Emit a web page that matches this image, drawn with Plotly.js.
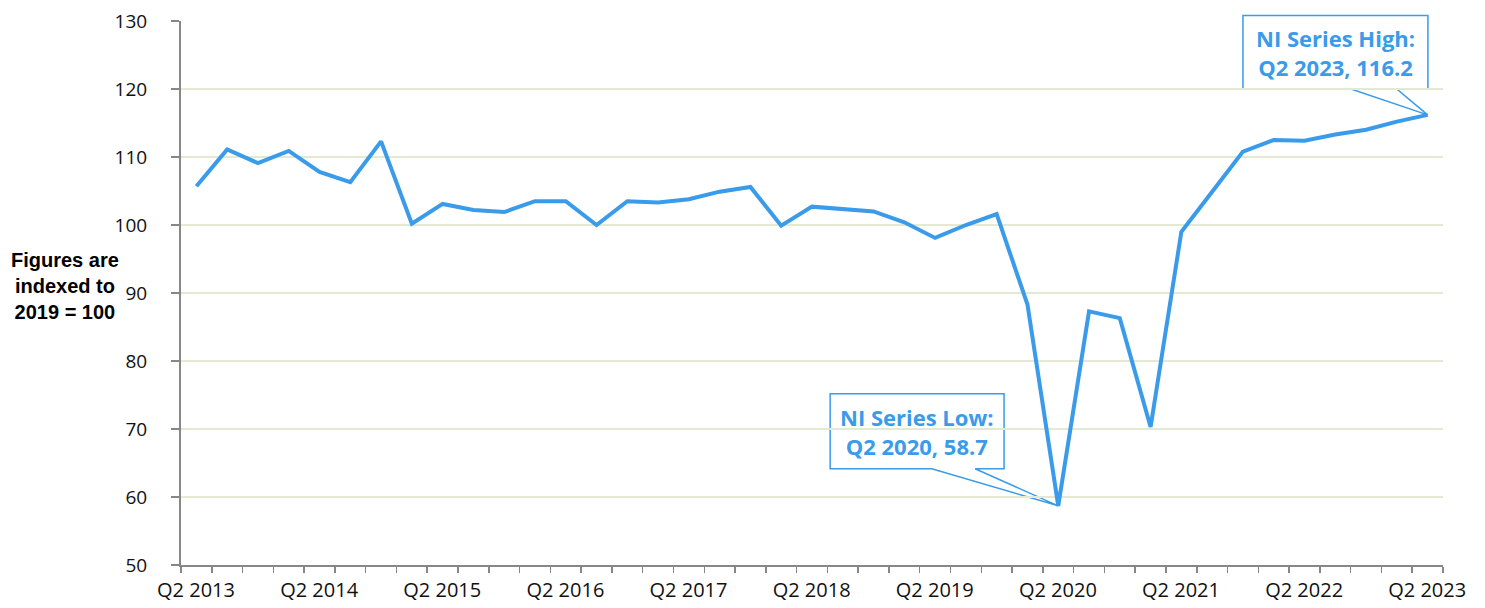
<!DOCTYPE html>
<html>
<head>
<meta charset="utf-8">
<script src="https://cdn.plot.ly/plotly-3.0.1.min.js"></script>
<style>html,body{margin:0;padding:0;background:#fff;}#chart{width:1485px;height:608px;}</style>
</head>
<body>
<div id="chart"></div>
<script>
const quarters = [
  "Q2 2013","Q3 2013","Q4 2013","Q1 2014",
  "Q2 2014","Q3 2014","Q4 2014","Q1 2015",
  "Q2 2015","Q3 2015","Q4 2015","Q1 2016",
  "Q2 2016","Q3 2016","Q4 2016","Q1 2017",
  "Q2 2017","Q3 2017","Q4 2017","Q1 2018",
  "Q2 2018","Q3 2018","Q4 2018","Q1 2019",
  "Q2 2019","Q3 2019","Q4 2019","Q1 2020",
  "Q2 2020","Q3 2020","Q4 2020","Q1 2021",
  "Q2 2021","Q3 2021","Q4 2021","Q1 2022",
  "Q2 2022","Q3 2022","Q4 2022","Q1 2023",
  "Q2 2023"
];
const indexValues = [
  105.7, 111.1, 109.1, 110.9,
  107.8, 106.3, 112.3, 100.2,
  103.1, 102.2, 101.9, 103.5,
  103.5, 100.0, 103.5, 103.3,
  103.8, 104.9, 105.6, 99.9,
  102.7, 102.4, 102.0, 100.4,
  98.1, 100.0, 101.6, 88.3,
  58.7, 87.3, 86.3, 70.3,
  99.0, 104.9, 110.8, 112.5,
  112.4, 113.3, 114.0, 115.2,
  116.2
];
const tickLabels = ["Q2 2013","Q2 2014","Q2 2015","Q2 2016","Q2 2017","Q2 2018","Q2 2019","Q2 2020","Q2 2021","Q2 2022","Q2 2023"];
const yTitle = "Figures are<br>indexed to<br>2019 = 100";

const blue = "#3a9bea";
const gray = "#878787";
const yRange = [50, 130];
const xRange = [-0.5, quarters.length - 0.5];
const xIdx = quarters.map((q, i) => i);

// ticks sit on the boundaries between quarters; labels are shifted half a quarter to the right
const boundaryVals = quarters.map((q, i) => i - 0.5).concat([quarters.length - 0.5]);
const boundaryText = boundaryVals.map((b, i) => (i < quarters.length && tickLabels.includes(quarters[i])) ? quarters[i] : "");

const plotW = 1485 - 181 - 42;
const halfStep = Math.round(plotW / (xRange[1] - xRange[0]) / 2);

const lowIdx = indexValues.indexOf(Math.min(...indexValues));
const highIdx = indexValues.indexOf(Math.max(...indexValues));
const toPaper = v => (v - yRange[0]) / (yRange[1] - yRange[0]);

function calloutPath(x0, x1, yTop, yBot, b0, b1, tipX, tipY) {
  return `M ${x0},${yTop} L ${x1},${yTop} L ${x1},${yBot} L ${b1},${yBot} L ${tipX},${tipY} L ${b0},${yBot} L ${x0},${yBot} Z`;
}

const lowText = `NI Series Low:<br>${quarters[lowIdx]}, ${indexValues[lowIdx].toFixed(1)}`;
const highText = `NI Series High:<br>${quarters[highIdx]}, ${indexValues[highIdx].toFixed(1)}`;

const trace = {
  x: xIdx,
  y: indexValues,
  type: "scatter",
  mode: "lines",
  line: {color: blue, width: 4},
  hoverinfo: "skip"
};

const layout = {
  width: 1485,
  height: 608,
  margin: {l: 181, r: 42, t: 21, b: 43},
  paper_bgcolor: "#ffffff",
  plot_bgcolor: "#ffffff",
  showlegend: false,
  font: {family: "Open Sans, sans-serif", color: "#111111"},
  xaxis: {
    range: xRange,
    tickmode: "array",
    tickvals: boundaryVals,
    ticktext: boundaryText,
    ticks: "outside",
    ticklen: 6,
    tickwidth: 1.5,
    tickcolor: gray,
    ticklabelshift: halfStep,
    tickfont: {family: "Open Sans, sans-serif", size: 20, color: "#111111"},
    showgrid: false,
    zeroline: false,
    showline: true,
    linecolor: gray,
    linewidth: 2
  },
  yaxis: {
    range: yRange,
    dtick: 10,
    tick0: 50,
    ticks: "outside",
    ticklen: 8,
    tickwidth: 1.5,
    tickcolor: gray,
    ticklabelstandoff: 20,
    tickfont: {family: "Open Sans, sans-serif", size: 19, color: "#111111"},
    showgrid: true,
    gridcolor: "#e3e9d2",
    gridwidth: 2,
    zeroline: false,
    showline: true,
    linecolor: gray,
    linewidth: 2
  },
  shapes: [
    {
      type: "path", xref: "x", yref: "paper", layer: "between",
      path: calloutPath(20.59, 26.24, 0.3149, 0.1770, 23.89, 25.30, lowIdx, toPaper(indexValues[lowIdx])),
      fillcolor: "#ffffff", line: {color: blue, width: 1.5}
    },
    {
      type: "path", xref: "x", yref: "paper", layer: "between",
      path: calloutPath(34.0, 40.01, 1.0103, 0.875, 37.51, 39.0, highIdx, toPaper(indexValues[highIdx])),
      fillcolor: "#ffffff", line: {color: blue, width: 1.5}
    }
  ],
  annotations: [
    {
      text: lowText, xref: "x", yref: "paper", x: 23.415, y: 0.246,
      xanchor: "center", yanchor: "middle", showarrow: false,
      font: {family: "Open Sans, sans-serif", size: 22, color: blue, weight: "bold"}, align: "center"
    },
    {
      text: highText, xref: "x", yref: "paper", x: 37.0, y: 0.9427,
      xanchor: "center", yanchor: "middle", showarrow: false,
      font: {family: "Open Sans, sans-serif", size: 22, color: blue, weight: "bold"}, align: "center"
    },
    {
      text: yTitle, xref: "paper", yref: "paper", x: -0.0922, y: 0.513,
      xanchor: "center", yanchor: "middle", showarrow: false, align: "center",
      font: {family: "Liberation Sans, Arial, sans-serif", size: 20, color: "#000000", weight: "bold"}
    }
  ]
};

Plotly.newPlot("chart", [trace], layout, {staticPlot: true, displayModeBar: false});
</script>
</body>
</html>
